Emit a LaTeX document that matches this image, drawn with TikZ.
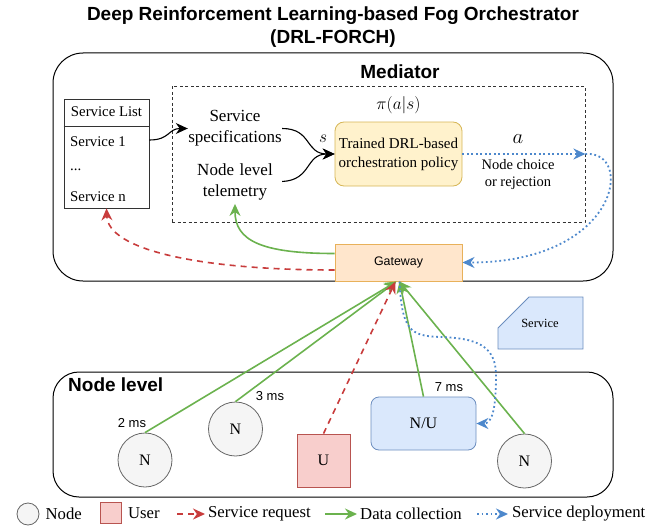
\documentclass[tikz,border=0pt]{standalone}
\usepackage{fontspec}
\setmainfont{Liberation Serif}
\setsansfont{Liberation Sans}
\usetikzlibrary{positioning,arrows.meta}

\definecolor{reqred}{HTML}{C83C3C}
\definecolor{datagreen}{HTML}{6BB24E}
\definecolor{depblue}{HTML}{4D88CC}
\definecolor{nodegray}{HTML}{F5F5F5}
\definecolor{nodeline}{HTML}{666666}
\definecolor{usrfill}{HTML}{F8CECC}
\definecolor{usrline}{HTML}{B85450}
\definecolor{nufill}{HTML}{DAE8FC}
\definecolor{nuline}{HTML}{6C8EBF}
\definecolor{polfill}{HTML}{FFF2CC}
\definecolor{polline}{HTML}{D6B656}
\definecolor{gwfill}{HTML}{FFE6CC}
\definecolor{gwline}{HTML}{E8B15A}

\tikzset{
  head/.style={-{Stealth[length=12pt,width=11pt]}},
  request/.style={head, draw=reqred, line width=1.6pt, dash pattern=on 6pt off 5pt},
  collect/.style={head, draw=datagreen, line width=1.6pt},
  deploy/.style={head, draw=depblue, line width=1.8pt, dash pattern=on 1.8pt off 2.7pt},
  flow/.style={head, draw=black, line width=1.1pt},
}

\begin{document}
\begin{tikzpicture}[x=1pt,y=-1pt,
    frame/.style={draw=black, line width=1pt, rounded corners=30pt, inner sep=0pt},
    innerbox/.style={draw=black!80, line width=0.8pt, dash pattern=on 3pt off 2.5pt, inner sep=0pt},
    boxtitle/.style={font=\sffamily\bfseries\fontsize{19}{23}\selectfont, inner sep=0pt},
    spectext/.style={font=\fontsize{17}{21}\selectfont, align=center, text width=94pt, inner sep=0pt},
    listtext/.style={font=\fontsize{14.8}{17}\selectfont, inner sep=0pt},
    smalltext/.style={font=\fontsize{14.5}{17}\selectfont, align=center, inner sep=0pt},
    mstext/.style={font=\sffamily\fontsize{13}{15}\selectfont, inner sep=0pt},
    mathlabel/.style={font=\fontsize{17.28}{20}\selectfont, inner sep=0pt},
    biglabel/.style={font=\fontsize{20.74}{24}\selectfont, inner sep=0pt},
    legendtext/.style={font=\fontsize{16.7}{20}\selectfont, inner sep=0pt, anchor=west},
    fognode/.style={circle, draw=nodeline, fill=nodegray, line width=0.8pt, minimum size=54pt, inner sep=0pt, font=\fontsize{16}{18}\selectfont},
    usernode/.style={rectangle, draw=usrline, fill=usrfill, line width=0.8pt, minimum size=53pt, inner sep=0pt, font=\fontsize{16}{18}\selectfont},
    hybridnode/.style={rectangle, rounded corners=8pt, draw=nuline, fill=nufill, line width=0.8pt, minimum width=105pt, minimum height=53pt, inner sep=0pt, font=\fontsize{16}{18}\selectfont},
    policybox/.style={rectangle, rounded corners=9pt, draw=polline, fill=polfill, line width=0.8pt, minimum width=127pt, minimum height=64pt, inner sep=0pt, align=center, font=\fontsize{15}{19}\selectfont},
    gwbox/.style={rectangle, draw=gwline, fill=gwfill, line width=1pt, minimum width=127pt, minimum height=37pt, inner sep=0pt, font=\sffamily\fontsize{12.4}{14}\selectfont},
  ]
  \useasboundingbox (0,0) rectangle (661,527);

  \node[boxtitle, align=center] (title) at (333,27) {Deep Reinforcement Learning-based Fog Orchestrator\\(DRL-FORCH)};

  \node[frame, minimum width=560pt, minimum height=228pt] (med) at (333,167) {};
  \node[boxtitle] (medlbl) at (400,72) {Mediator};
  \node[innerbox, minimum width=413pt, minimum height=136pt] (drl) at (378.5,154) {};

  \node[draw=black!80, line width=0.8pt, minimum width=85pt, minimum height=109pt, inner sep=0pt] (slist) at (106.5,153.5) {};
  \draw[black!80, line width=0.8pt] (slist.west |- 0,126) -- (slist.east |- 0,126);
  \node[listtext] (slhead) at (106.5,112) {Service List};
  \node[listtext, anchor=west] (sl1) at (70,142) {Service 1};
  \node[listtext, anchor=west] (sldots) at (70,170) {...};
  \node[listtext, anchor=west] (sln) at (70,197) {Service n};

  \node[spectext] (spec) at (235,128.5) {Service\\specifications};
  \node[spectext] (telem) at (235,181.5) {Node level\\telemetry};

  \node[policybox] (pol) at (398.5,154) {Trained DRL-based\\orchestration policy};
  \node[mathlabel, above=8pt of pol] (pi) {$\pi(a|s)$};
  \node[mathlabel] (slbl) at (323,139) {$s$};
  \node[biglabel] (albl) at (518,139) {$a$};
  \node[smalltext] (choice) at (518,174.5) {Node choice\\or rejection};
  \coordinate (act) at (drl.east |- pol.east);

  \node[gwbox] (gw) at (398.5,262.5) {Gateway};

  \draw[line width=0.8pt, fill=nufill, draw=nuline] (498,328) -- (529,297) -- (583,297) -- (583,349) -- (498,349) -- cycle;
  \node[font=\fontsize{12.5}{14}\selectfont, inner sep=0pt] (svc) at (540,323) {Service};

  \node[frame, rounded corners=26pt, minimum width=560pt, minimum height=125pt] (lvl) at (333,434.5) {};
  \node[boxtitle, anchor=west] (lvllbl) at (68,385) {Node level};

  \node[fognode] (n1) at (145,460) {N};
  \node[fognode] (n2) at (235.5,429) {N};
  \node[usernode] (u) at (323.5,460.5) {U};
  \node[hybridnode] (nu) at (423.5,423.5) {N/U};
  \node[fognode] (n4) at (524.5,461) {N};

  \node[mstext] (ms1) at (132,423) {2 ms};
  \node[mstext] (ms2) at (270,396) {3 ms};
  \node[mstext] (ms3) at (449,387) {7 ms};

  \draw[flow] ([yshift=13.5pt]slist.east) .. controls (170,140) and (168,128.5) .. (spec.west);
  \draw[flow] (spec.east) .. controls (312,128.5) and (305,154) .. (pol.west);
  \draw[flow] (telem.east) .. controls (312,180) and (305,154) .. (pol.west);

  \draw[deploy] (pol.east) -- (act);
  \draw[deploy] (act) .. controls (635,150) and (620,262.5) .. (gw.east);

  \draw[request] ([yshift=-7.5pt]gw.west) .. controls (200,270) and (108,250) .. (slist.south);
  \draw[collect] ([yshift=9pt]gw.west) .. controls (260,253.5) and (235,240) .. ([yshift=-4pt]telem.south);

  \draw[collect] (n1.north) -- ([xshift=-2pt]gw.south);
  \draw[collect] (n2.north) -- ([xshift=-2pt]gw.south);
  \draw[request] (u.north) -- ([xshift=-3pt]gw.south);
  \draw[collect] (nu.north) -- ([xshift=1pt]gw.south);
  \draw[collect] (n4.north) -- ([xshift=1pt]gw.south);
  \draw[deploy] ([xshift=1pt]gw.south) .. controls (402,330) and (410,336) .. (440,337) .. controls (475,338) and (496,345) .. (496,375) .. controls (496,410) and (492,423.5) .. (nu.east);

  \node[circle, draw=nodeline, fill=nodegray, line width=0.8pt, minimum size=22pt, inner sep=0pt] (lgnode) at (28,514) {};
  \node[legendtext, right=6pt of lgnode] (lgnodetxt) {Node};
  \node[rectangle, draw=usrline, fill=usrfill, line width=0.8pt, minimum size=21pt, inner sep=0pt] (lguser) at (111,513) {};
  \node[legendtext, right=6pt of lguser] (lgusertxt) {User};
  \coordinate (lgreqa) at (177,514);
  \coordinate (lgreqb) at (205,514);
  \draw[request] (lgreqa) -- (lgreqb);
  \node[legendtext, right=3pt of lgreqb] (lgreqtxt) {Service request};
  \coordinate (lgcola) at (325,514);
  \coordinate (lgcolb) at (357,514);
  \draw[collect] (lgcola) -- (lgcolb);
  \node[legendtext, right=3pt of lgcolb] (lgcoltxt) {Data collection};
  \coordinate (lgdepa) at (477,514);
  \coordinate (lgdepb) at (508,514);
  \draw[deploy] (lgdepa) -- (lgdepb);
  \node[legendtext, right=4pt of lgdepb] (lgdeptxt) {Service deployment};
\end{tikzpicture}
\end{document}
